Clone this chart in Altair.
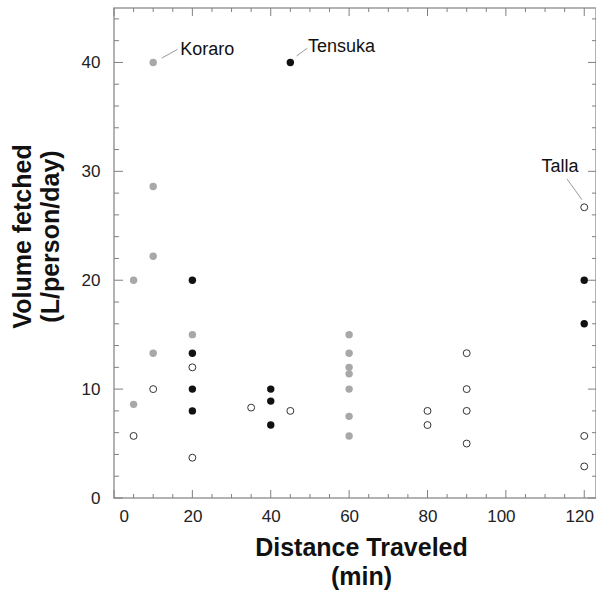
import altair as alt
import pandas as pd

# ---- data ----
gray_x = [10, 10, 10, 5, 10, 5, 20, 60, 60, 60, 60, 60, 60, 60]
gray_y = [40, 28.6, 22.2, 20, 13.3, 8.6, 15, 15, 13.3, 12, 11.4, 10, 7.5, 5.7]

black_x = [45, 20, 20, 20, 20, 40, 40, 40, 120, 120]
black_y = [40, 20, 13.3, 10, 8, 10, 8.9, 6.7, 20, 16]

open_x = [5, 10, 20, 20, 35, 45, 80, 80, 90, 90, 90, 90, 120, 120, 120]
open_y = [5.7, 10, 12, 3.7, 8.3, 8, 8, 6.7, 13.3, 10, 8, 5, 26.7, 5.7, 2.9]

labels = ["Koraro", "Tensuka", "Talla"]
label_x = [16.9, 49.5, 113.8]
label_y = [41.1, 41.4, 30.4]
label_align = ["left", "left", "center"]
leader_x = [12.2, 46.6, 115.6]
leader_y = [40.4, 40.6, 29.3]
leader_x2 = [16.2, 49.3, 119.4]
leader_y2 = [41.2, 41.3, 27.4]

x_major = [0, 20, 40, 60, 80, 100, 120]
x_minor = [v for v in range(5, 125, 5) if v % 20 != 0]
y_major = [0, 10, 20, 30, 40]
y_minor = [v for v in range(2, 45, 2) if v % 10 != 0]

X_DOMAIN = [0, 123]
Y_DOMAIN = [0, 45]
W, H = 482, 490
FONT = "Liberation Sans"

xs = alt.Scale(domain=X_DOMAIN, nice=False, zero=False)
ys = alt.Scale(domain=Y_DOMAIN, nice=False, zero=False)

gray_df = pd.DataFrame({"x": gray_x, "y": gray_y})
black_df = pd.DataFrame({"x": black_x, "y": black_y})
open_df = pd.DataFrame({"x": open_x, "y": open_y})

base_x = alt.X("x:Q", scale=xs,
               axis=alt.Axis(values=x_major, ticks=False, domain=False, grid=False,
                             labelFont=FONT, labelFontSize=17, labelColor="#222",
                             labelPadding=10,
                             labelOffset=alt.ExprRef(expr="datum.value == 0 ? 5 : (datum.value >= 100 ? -5 : 0)"),
                             title=["Distance Traveled", "(min)"],
                             titleFont=FONT, titleFontSize=25, titleFontWeight="bold",
                             titleColor="#111", titleLineHeight=29,
                             titleX=247, titleY=57, titleBaseline="alphabetic",
                             titleAnchor="start", titleAlign="center"))
base_y = alt.Y("y:Q", scale=ys,
               axis=alt.Axis(values=y_major, ticks=False, domain=False, grid=False,
                             labelFont=FONT, labelFontSize=17, labelColor="#222",
                             labelPadding=14,
                             title=["Volume fetched", "(L/person/day)"],
                             titleFont=FONT, titleFontSize=25, titleFontWeight="bold",
                             titleColor="#111", titleLineHeight=28,
                             titleX=-92, titleY=228, titleBaseline="middle",
                             titleAnchor="start", titleAlign="center", titleAngle=270))

gray = alt.Chart(gray_df).mark_circle(size=55, color="#a8a8a8", opacity=1).encode(x=base_x, y=base_y)
black = alt.Chart(black_df).mark_circle(size=55, color="#111111", opacity=1).encode(
    x=alt.X("x:Q", scale=xs), y=alt.Y("y:Q", scale=ys))
opn = alt.Chart(open_df).mark_point(shape="circle", size=48, filled=False, fill="white",
                                    stroke="#333333", strokeWidth=1, opacity=1).encode(
    x=alt.X("x:Q", scale=xs), y=alt.Y("y:Q", scale=ys))

tick_color = "#808080"
xmaj_df = pd.DataFrame({"x": x_major})
xmin_df = pd.DataFrame({"x": x_minor})
ymaj_df = pd.DataFrame({"y": y_major})
ymin_df = pd.DataFrame({"y": y_minor})

def xticks(df, y0, y1):
    return alt.Chart(df).mark_rule(color=tick_color, strokeWidth=1).encode(
        x=alt.X("x:Q", scale=xs), y=alt.value(y0), y2=alt.value(y1))

def yticks(df, x0, x1):
    return alt.Chart(df).mark_rule(color=tick_color, strokeWidth=1).encode(
        y=alt.Y("y:Q", scale=ys), x=alt.value(x0), x2=alt.value(x1))

ticks = [
    xticks(xmaj_df, H, H - 8), xticks(xmin_df, H, H - 4),
    xticks(xmaj_df, 0, 8), xticks(xmin_df, 0, 4),
    yticks(ymaj_df, 0, 9), yticks(ymin_df, 0, 5),
    yticks(ymaj_df, W, W - 8), yticks(ymin_df, W, W - 4),
]

lab_df = pd.DataFrame({"t": labels, "x": label_x, "y": label_y, "a": label_align})
lead_df = pd.DataFrame({"x": leader_x, "y": leader_y, "x2": leader_x2, "y2": leader_y2})

leaders = alt.Chart(lead_df).mark_rule(color="#999999", strokeWidth=1).encode(
    x=alt.X("x:Q", scale=xs), y=alt.Y("y:Q", scale=ys), x2="x2:Q", y2="y2:Q")
txt_left = alt.Chart(lab_df[lab_df.a == "left"]).mark_text(
    align="left", baseline="middle", font=FONT, fontSize=18, color="#111").encode(
    x=alt.X("x:Q", scale=xs), y=alt.Y("y:Q", scale=ys), text="t:N")
txt_center = alt.Chart(lab_df[lab_df.a == "center"]).mark_text(
    align="center", baseline="middle", font=FONT, fontSize=18, color="#111").encode(
    x=alt.X("x:Q", scale=xs), y=alt.Y("y:Q", scale=ys), text="t:N")

chart = alt.layer(gray, black, opn, *ticks, leaders, txt_left, txt_center).properties(
    width=W, height=H,
    autosize=alt.AutoSizeParams(type="none"),
    padding={"left": 114, "top": 8, "right": 0, "bottom": 94},
    background="white",
).configure_view(stroke="#9a9a9a", strokeWidth=1.5)

chart.save("out.html", embed_options={"renderer": "svg", "actions": False})
